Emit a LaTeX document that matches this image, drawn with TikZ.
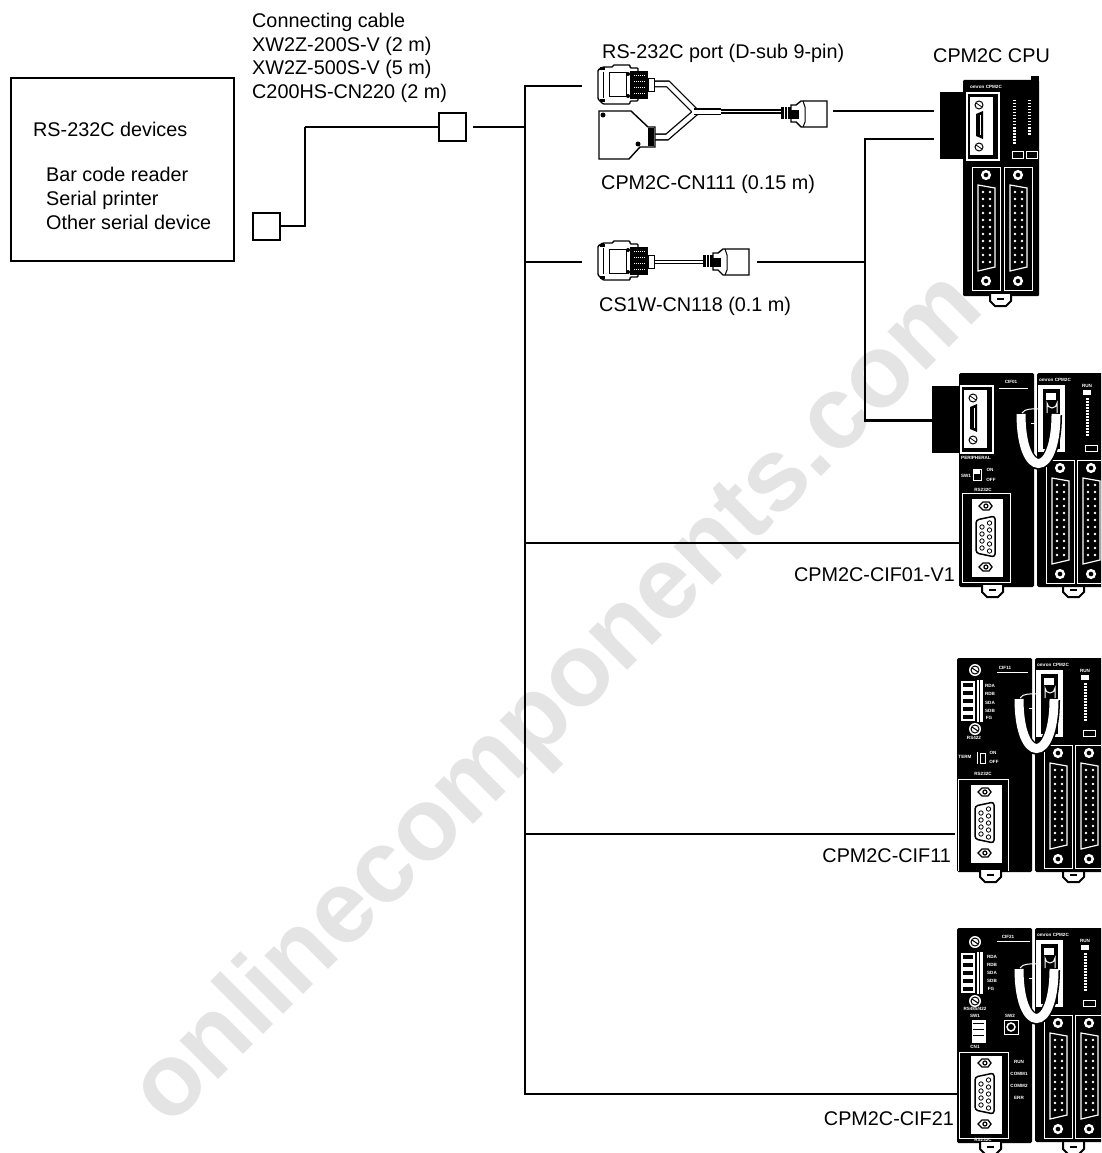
\documentclass[tikz,border=0pt]{standalone}
\usepackage{fontspec}
\setmainfont{Liberation Sans}
\usetikzlibrary{positioning,calc}
\definecolor{markgray}{HTML}{E4E4E4}
\newcommand{\lblfont}{\fontsize{19.8}{23.6}\selectfont}
\newcommand{\tinyfont}{\fontsize{4.6}{5}\selectfont\bfseries}
\tikzset{
  iocol/.pic={
    \draw[white,line width=1] (0,0) rectangle (28,123);
    \draw[white,line width=2.4] (14,8) circle (3.8) (14,114) circle (3.8);
    \draw[white,line width=1.2] (6,18) -- (23,21) -- (23,100) -- (6,104) -- cycle;
    \foreach \py in {25,32,...,97} {
      \fill[white] (11,\py) circle (1.3) (18,\py) circle (1.3);
    }
  },
  cpumod/.pic={
    \fill[black,rounded corners=1.5] (0,0) rectangle (90,214);
    \node[white,font=\tinyfont] (brand) at (18,7) {omron CPM2C};
    \fill[white] (1,12) rectangle (28,79);
    \fill[black] (6,16) rectangle (23,76);
    \fill[white] (9,20) rectangle (19,27);
    \draw[white,line width=1] (10,40) -- (10,30) arc (180:0:5) -- (20,40);
    \node[white,font=\tinyfont] (runlbl) at (50,13) {RUN};
    \fill[white] (46,17) rectangle (54,22);
    \draw[white,line width=3,dash pattern=on 1.5pt off 1.5pt] (50,25) -- (50,64);
    \draw[white,line width=1] (48,72) rectangle (60,78);
    \pic at (9,87) {iocol};
    \pic at (40,87) {iocol};
  },
  ucable/.pic={
    \draw[white,line width=1] (-15,40) .. controls (-12,35) and (-4,36) .. (4,36);
    \draw[white,line width=1] (-6,50) -- (0,50);
    \draw[black,line width=12] (-16,42) .. controls (-16,107) and (19,107) .. (19,42);
    \draw[white,line width=9] (-16,41) .. controls (-16,107) and (19,107) .. (19,41);
  },
  foot/.pic={
    \draw[black,fill=white,line width=2] (0,0) -- (0,7) -- (5,12) -- (16,12) -- (21,7) -- (21,0);
    \draw[black,line width=2] (7,5) -- (14,5);
  },
  portplate/.pic={
    \draw[white,line width=1.5] (1,0) rectangle (33,67);
    \fill[white] (4,4) rectangle (27,62);
    \draw[black,line width=1] (13,12) circle (4) (13,54) circle (4);
    \draw[black,line width=.8] (10,10) -- (16,14) (10,52) -- (16,56);
    \fill[black] (10,21) -- (17,18) -- (17,46) -- (10,43) -- cycle;
    \draw[white,line width=1] (14,22) -- (14,42);
  },
  db9plate/.pic={
    \fill[white] (0,0) rectangle (31,78);
    \draw[black,line width=1.3] (7,7) -- (11,3) -- (17,3) -- (20,7) -- (17,11) -- (11,11) -- cycle;
    \draw[black,line width=1.3] (7,68) -- (11,64) -- (17,64) -- (20,68) -- (17,72) -- (11,72) -- cycle;
    \draw[black,line width=1.2] (13.9,7) circle (2) (13.9,68) circle (2);
    \draw[black,line width=1.5,rounded corners=3] (4,21) -- (23,17) -- (23,58) -- (4,54) -- cycle;
    \foreach \py in {28,35,42,49} { \draw[black,line width=.8] (10,\py) circle (2.2); }
    \foreach \py in {24,31,38,45,52} { \draw[black,line width=.8] (17.5,\py) circle (2.2); }
  },
  termblock/.pic={
    \foreach \py in {0,8,...,32} {
      \draw[white,line width=1.4] (1,\py+2) rectangle (13,\py+8);
    }
    \fill[white] (16,0) rectangle (22,42);
    \draw[black,line width=.6] (18,0) -- (18,42);
    \fill[white] (14,-10) circle (6) (14,49) circle (6);
    \draw[black,line width=1] (14,-10) circle (4) (14,49) circle (4);
    \draw[black,line width=1] (11,-12) -- (17,-8) (11,47) -- (17,51);
  },
  dsub/.pic={
    \draw[black,fill=white,line width=1.4,rounded corners=1] (0,4) -- (5,1) -- (15,1) -- (15,-1) -- (32,-1) -- (32,2) -- (40,2) -- (40,35) -- (32,35) -- (32,38) -- (5,38) -- (0,33) -- cycle;
    \draw[black,line width=1] (5,6) -- (5,32) (11,7) rectangle (28,31);
    \draw[black,line width=3] (2,3) -- (7,3) (2,35) -- (7,35);
    \fill[black] (32,5) rectangle (50,33);
    \draw[white,line width=.5,dash pattern=on 1pt off 1pt] (36,9) -- (48,9) (36,15) -- (48,15) (36,21) -- (48,21) (36,27) -- (48,27);
    \fill[black] (30,8) circle (2) (30,30) circle (2);
    \draw[black,fill=white,line width=1] (50,13) rectangle (56,26);
  },
  plug/.pic={
    \fill[black] (0,-6) rectangle (10,6);
    \draw[white,line width=.5] (3,-6) -- (3,6) (6,-6) -- (6,6);
    \draw[black,fill=white,line width=1.4] (10,-8) -- (15,-8) -- (20,-12) -- (46,-12) -- (46,14) -- (20,14) -- (15,9) -- (10,9) -- cycle;
    \draw[black,line width=1] (22,-12) -- (24,-6) -- (24,9) -- (22,14);
    \fill[black] (10,-3) rectangle (18,6);
  }
}
\begin{document}
\begin{tikzpicture}[x=1pt,y=-1pt,
    lbl/.style={font=\lblfont,inner sep=0pt,anchor=base west,text=black},
    lblr/.style={font=\lblfont,inner sep=0pt,anchor=base east,text=black},
    micro/.style={font=\tinyfont,text=white,inner sep=0pt},
    wire/.style={black,line width=1.3},
    bus/.style={black,line width=2.1},
    endbox/.style={draw=black,line width=2,fill=white,minimum size=27pt,inner sep=0pt},
    blk/.style={fill=black,inner sep=0pt}
  ]
    \useasboundingbox (0,0) rectangle (1101,1153);
    \clip (0,0) rectangle (1101,1153);
    \fill[white] (0,0) rectangle (1101,1153);
    \node[rotate=45,text=markgray,font=\fontsize{103}{107}\selectfont\bfseries] (mark) at (559,701) {onlinecomponents.com};

    \node[draw=black,line width=2,outer sep=0pt,minimum width=223.6pt,minimum height=182pt,anchor=north west] (devbox) at (10.7,78.5) {};
    \node[lbl] (devtitle) at (33,136.7) {RS-232C devices};
    \node[lbl] (devone) at (46,181.5) {Bar code reader};
    \node[lbl] (devtwo) at (46,205) {Serial printer};
    \node[lbl] (devthree) at (46,229) {Other serial device};

    \node[endbox] (endA) at (266.5,226) {};
    \node[endbox] (endB) at (452,127) {};
    \node[lbl] (cabletitle) at (252,27.7) {Connecting cable};
    \node[lbl] (cableone) at (252,51.5) {XW2Z-200S-V (2 m)};
    \node[lbl] (cabletwo) at (252,74.5) {XW2Z-500S-V (5 m)};
    \node[lbl] (cablethree) at (252,98.4) {C200HS-CN220 (2 m)};

    \coordinate (hubA) at (473,127);
    \coordinate (corner) at (305,127);
    \coordinate (busT) at (525,86);
    \coordinate (busH) at (525,127);
    \coordinate (busP) at (525,262);
    \coordinate (busQ) at (525,543);
    \coordinate (busR) at (525,834);
    \coordinate (busS) at (525,1094);
    \coordinate (cnA) at (582,86);
    \coordinate (cnB) at (582,262);
    \coordinate (plugA) at (833,111);
    \coordinate (plugB) at (757,262);
    \coordinate (cpuA) at (934,111);
    \coordinate (cpuB) at (934,139);
    \coordinate (riser) at (865,262);
    \coordinate (cifA) at (932,420.5);
    \coordinate (cifB) at (962,543);
    \coordinate (cifC) at (955,834);
    \coordinate (cifD) at (959,1094);

    \draw[bus] (endA.east) -| (corner);
    \draw[wire] (corner) -- (endB.west);
    \draw[wire] (hubA) -- (busH);
    \draw[bus] (cnA) -- (busT) -- (busS) -- (cifD);
    \draw[wire] (busP) -- (cnB);
    \draw[bus] (busQ) -- (cifB);
    \draw[bus] (busR) -- (cifC);
    \draw[wire] (plugA) -- (cpuA);
    \draw[wire] (plugB) -- (riser);
    \draw[bus] (cpuB) -- (865,139) -- (865,420.5) -- (cifA);

    % cable with two hoods
    \node[lbl] (portlbl) at (602,58.3) {RS-232C port (D-sub 9-pin)};
    \draw[black,line width=7] (654,84) -- (668,84) -- (696,112) -- (667,137) -- (652,137);
    \draw[white,line width=4.4] (654,84) -- (668,84) -- (696,112) -- (667,137) -- (652,137);
    \draw[black,line width=7] (694,112) -- (721,112);
    \draw[white,line width=4.4] (692,112) -- (721,112);
    \draw[black,line width=4.4] (721,111.5) -- (782,111.5);
    \draw[white,line width=1.6] (719,111.5) -- (782,111.5);
    \pic at (598,66) {dsub};
    \draw[black,fill=white,line width=1.4] (599,111) -- (631,111) -- (648,127) -- (655,127) -- (655,147) -- (640,147) -- (629,159) -- (599,159) -- cycle;
    \fill[black] (648,128) rectangle (654,146);
    \fill[black] (603,115) circle (2.5) (638,144) circle (2.5);
    \pic at (781,113) {plug};
    \node[lbl] (cnlblA) at (601,189) {CPM2C-CN111 (0.15 m)};

    % straight cable
    \draw[black,line width=4.4] (652,262) -- (704,262);
    \draw[white,line width=1.6] (652,262) -- (704,262);
    \pic at (598,242) {dsub};
    \pic at (703,261) {plug};
    \node[lbl] (cnlblB) at (599,311.7) {CS1W-CN118 (0.1 m)};

    % CPU alone
    \node[lbl] (cpulbl) at (933,62.3) {CPM2C CPU};
    \fill[black,rounded corners=1] (963,80) rectangle (1039,296);
    \fill[black] (1031,76) rectangle (1039,82);
    \pic at (990,294) {foot};
    \node[blk,minimum width=24pt,minimum height=67pt,anchor=north west] (cpublk) at (939.5,92) {};
    \node[micro] (cpubrand) at (986,87) {omron CPM2C};
    \pic at (966,93) {portplate};
    \draw[white,line width=3,dash pattern=on 1.5pt off 1.5pt] (1014,100) -- (1014,145) (1029,100) -- (1029,135);
    \draw[white,line width=.8] (1012,151) rectangle (1023,158) (1026,151) rectangle (1037,158);
    \pic at (972,167) {iocol};
    \pic at (1004,167) {iocol};

    % CIF01
    \fill[black,rounded corners=1.5] (959,373) rectangle (1034,587);
    \pic at (982,585) {foot};
    \pic at (1063,585) {foot};
    \pic at (1037,373) {cpumod};
    \node[blk,minimum width=27pt,minimum height=67pt,anchor=north west] (cifblk) at (932,386) {};
    \pic at (960,386) {portplate};
    \pic at (1037,373) {ucable};
    \node[micro] (ciflbl) at (1011,382) {CIF01};
    \draw[white,line width=1] (999,388) -- (1028,388);
    \node[micro] (periph) at (976,458) {PERIPHERAL};
    \node[micro] (swone) at (966,476) {SW1};
    \draw[white,line width=.8] (973,469) rectangle (981,480);
    \fill[white] (974,470) rectangle (980,474);
    \node[micro] (swon) at (990,470) {ON};
    \node[micro] (swoff) at (991,480) {OFF};
    \node[micro] (rslbl) at (983,490) {RS232C};
    \draw[white,line width=1] (962,493) rectangle (1010,582);
    \pic at (972,499) {db9plate};

    % CIF11
    \fill[black,rounded corners=1.5] (957,658) rectangle (1032,872);
    \pic at (980,870) {foot};
    \pic at (1063,870) {foot};
    \pic at (1035,658) {cpumod};
    \pic at (1035,658) {ucable};
    \node[micro] (ciflblB) at (1005,668) {CIF11};
    \draw[white,line width=1] (997,672) -- (1028,672);
    \pic at (961,680) {termblock};
    \node[micro] (rdaB) at (990,686) {RDA};
    \node[micro] (rdbB) at (990,694) {RDB};
    \node[micro] (sdaB) at (990,703) {SDA};
    \node[micro] (sdbB) at (990,711) {SDB};
    \node[micro] (fgB) at (989,718) {FG};
    \node[micro] (rs4B) at (974,738) {RS422};
    \node[micro] (tbB) at (965,757) {TERM};
    \draw[white,line width=.8] (977,752) -- (977,764) (980,753) rectangle (985,763);
    \node[micro] (onB) at (993,753) {ON};
    \node[micro] (offB) at (994,762) {OFF};
    \node[micro] (rslblB) at (983,774) {RS232C};
    \draw[white,line width=1] (958,871) -- (958,779) -- (1008,779) -- (1008,871);
    \pic at (971,785) {db9plate};

    % CIF21
    \fill[black,rounded corners=1.5] (957,928) rectangle (1032,1143);
    \pic at (980,1142) {foot};
    \pic at (1063,1142) {foot};
    \pic at (1035,928) {cpumod};
    \pic at (1035,928) {ucable};
    \node[micro] (ciflblC) at (1008,937) {CIF21};
    \draw[white,line width=1] (997,941) -- (1030,941);
    \pic at (961,952) {termblock};
    \node[micro] (rdaC) at (992,957) {RDA};
    \node[micro] (rdbC) at (992,965) {RDB};
    \node[micro] (sdaC) at (992,973) {SDA};
    \node[micro] (sdbC) at (992,981) {SDB};
    \node[micro] (fgC) at (991,989) {FG};
    \node[micro] (rs4C) at (975,1009) {RS485/422};
    \node[micro] (swoneC) at (975,1016) {SW1};
    \node[micro] (swtwoC) at (1010,1016) {SW2};
    \draw[white,fill=white] (972,1020) rectangle (985,1042);
    \draw[black,line width=1] (973,1023) -- (984,1023) (973,1029) -- (984,1029) (973,1035) -- (984,1035);
    \draw[white,line width=.8,fill=black] (1004,1020) rectangle (1018,1034);
    \draw[white,line width=1.5] (1011,1027) circle (4);
    \node[micro] (cnoneC) at (975,1047) {CN1};
    \draw[white,line width=1] (959,1052) rectangle (1008,1138);
    \pic at (971,1056) {db9plate};
    \node[micro] (runC) at (1019,1062) {RUN};
    \node[micro] (commaC) at (1019,1074) {COMM1};
    \node[micro] (commbC) at (1019,1086) {COMM2};
    \node[micro] (errC) at (1019,1098) {ERR};
    \node[micro] (dbC) at (983,1140) {RS232C};

    \node[lblr] (lblcifA) at (955,581) {CPM2C-CIF01-V1};
    \node[lblr] (lblcifB) at (951,862) {CPM2C-CIF11};
    \node[lblr] (lblcifC) at (954,1125.5) {CPM2C-CIF21};
  \end{tikzpicture}
\end{document}
